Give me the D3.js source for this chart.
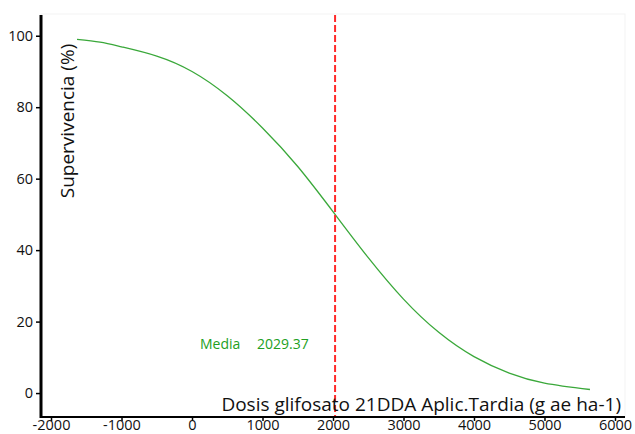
<!DOCTYPE html>
<html>
<head>
<meta charset="utf-8">
<script src="https://cdn.jsdelivr.net/npm/d3@7"></script>
<style>
  html, body { margin: 0; padding: 0; background: #fff; }
  svg { display: block; }
  text { font-family: "Open Sans", "Noto Sans", sans-serif; }
</style>
</head>
<body>
<svg id="chart" width="635" height="434"></svg>
<script>
// Dose-response curve: survival (%) vs glyphosate dose
const doses    = [-1631, -1305, -1000, -500, 0, 500, 1000, 1500, 2029.37, 2500, 3000, 3500, 4000, 4500, 5000, 5645];
const survival = [99.0, 98.2, 96.9, 94.3, 90.0, 83.2, 74.2, 63.4, 50.0, 37.9, 26.3, 17.0, 10.2, 5.6, 2.8, 1.0];
const median = 2029.37;
const xTicks = [-2000, -1000, 0, 1000, 2000, 3000, 4000, 5000, 6000];
const yTicks = [0, 20, 40, 60, 80, 100];

const svg = d3.select("#chart");
const mLeft = 41, mRight = 625, mTop = 15, mBottom = 417;

const x = d3.scaleLinear().domain([-2142, 6142]).range([mLeft, mRight]);
const y = d3.scaleLinear().domain([-6.7, 105.8]).range([mBottom, mTop]);

// faint panel border
svg.append("rect")
  .attr("x", mLeft).attr("y", mTop - 1)
  .attr("width", mRight - mLeft).attr("height", mBottom - mTop + 1)
  .attr("fill", "none").attr("stroke", "#f3f3f3").attr("stroke-width", 1);

// fitted curve
const pts = doses.map((d, i) => [d, survival[i]]);
svg.append("path")
  .datum(pts)
  .attr("fill", "none")
  .attr("stroke", "#3aa83a")
  .attr("stroke-width", 1.3)
  .attr("d", d3.line().x(d => x(d[0])).y(d => y(d[1])).curve(d3.curveNatural));

// median marker
svg.append("line")
  .attr("x1", x(median)).attr("x2", x(median))
  .attr("y1", mTop).attr("y2", mBottom)
  .attr("stroke", "#ff2a2a").attr("stroke-width", 2)
  .attr("stroke-dasharray", "7,3");

svg.append("text")
  .attr("x", 200).attr("y", 349)
  .attr("fill", "#22a022").attr("font-size", 14)
  .text("Media");
svg.append("text")
  .attr("x", 257).attr("y", 349)
  .attr("fill", "#22a022").attr("font-size", 14)
  .text(d3.format(".2f")(median));

// axis titles
svg.append("text")
  .attr("transform", `translate(74,121) rotate(-90)`)
  .attr("text-anchor", "middle")
  .attr("fill", "#111").attr("font-size", 19)
  .text("Supervivencia (%)");

svg.append("defs").append("clipPath").attr("id", "xt")
  .append("rect").attr("x", 0).attr("y", 0).attr("width", 635).attr("height", 415);
svg.append("text")
  .attr("clip-path", "url(#xt)")
  .attr("x", 621).attr("y", 411)
  .attr("text-anchor", "end")
  .attr("fill", "#111").attr("font-size", 19)
  .text("Dosis glifosato 21DDA Aplic.Tardia (g ae ha-1)");

// axes
const fmt = d => String(d);  // plain hyphen for negatives
const yAxis = svg.append("g")
  .attr("transform", `translate(${mLeft},0)`)
  .call(d3.axisLeft(y).tickValues(yTicks).tickSize(5).tickPadding(3).tickFormat(fmt));
yAxis.select(".domain").remove();
yAxis.append("line").attr("x1", 0).attr("x2", 0).attr("y1", mTop).attr("y2", mBottom + 1)
  .attr("stroke", "#000").attr("stroke-width", 3);

const xAxis = svg.append("g")
  .attr("transform", `translate(0,${mBottom})`)
  .call(d3.axisBottom(x).tickValues(xTicks).tickSize(4).tickFormat(fmt));
xAxis.select(".domain").remove();
xAxis.selectAll(".tick text").attr("y", 12.5).attr("dy", 0);
xAxis.append("line").attr("x1", mLeft).attr("x2", mRight).attr("y1", 0).attr("y2", 0)
  .attr("stroke", "#000").attr("stroke-width", 2);

svg.selectAll(".tick line").attr("stroke", "#000").attr("stroke-width", 1.5);
svg.selectAll(".tick text")
  .attr("fill", "#111")
  .attr("font-size", 14.5)
  .attr("font-family", "'Open Sans', 'Noto Sans', sans-serif");
</script>
</body>
</html>
